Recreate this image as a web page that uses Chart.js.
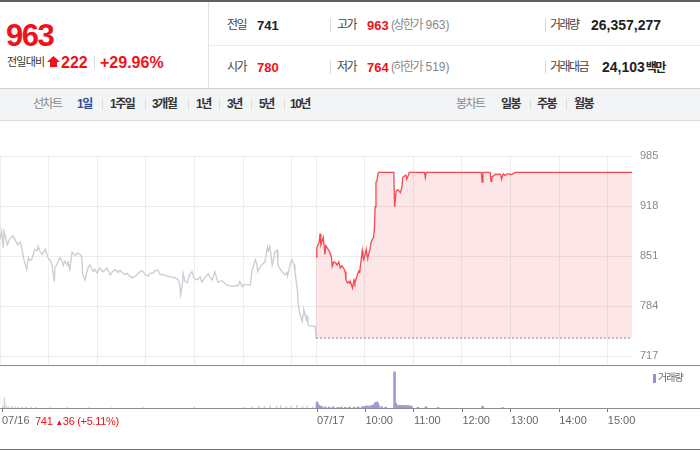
<!DOCTYPE html>
<html lang="ko">
<head>
<meta charset="utf-8">
<title>시세 차트</title>
<script src="https://cdn.jsdelivr.net/npm/chart.js@4.4.1/dist/chart.umd.min.js"></script>
<style>
  body { margin: 0; background: #fff; font-family: 'Liberation Sans', Arial, 'Noto Sans CJK KR', sans-serif; }
  #wrap { position: relative; width: 700px; height: 450px; overflow: hidden; background: #fff; }
  .t { position: absolute; white-space: nowrap; line-height: 1; }
  .ko { letter-spacing: -1.5px; }
  .lbl { font-size: 12px; color: #444; }
  .val { font-size: 13px; font-weight: bold; color: #222; }
  .big { font-size: 14px; font-weight: bold; color: #222; }
  .red { color: #f2111a; }
  .gray { font-size: 12px; color: #888; }
  .tab { font-size: 12px; font-weight: bold; color: #333; }
  .ln { position: absolute; }
  .sep { position: absolute; width: 1px; background: #dcdcdc; }
  #priceBox { position: absolute; left: 0; top: 120px; width: 700px; height: 245px; }
  #volBox { position: absolute; left: 0; top: 365px; width: 700px; height: 85px; }
</style>
</head>
<body>
<div id="wrap">
  <!-- 상단 시세 정보 -->
  <div class="ln" style="left:0;top:0;width:700px;height:2px;background:#5c6068"></div>
  <div class="t red" style="left:6px;top:20px;font-size:31px;font-weight:bold;letter-spacing:-1.5px">963</div>
  <div class="t ko" style="left:7px;top:57px;font-size:11px;color:#333;letter-spacing:-0.8px">전일대비</div>
  <svg style="position:absolute;left:47px;top:56px" width="13" height="11" viewBox="0 0 13 11">
    <polygon points="6.5,0 13,6 10,6 10,11 3,11 3,6 0,6" fill="#f2111a"/>
  </svg>
  <div class="t red" style="left:61px;top:55px;font-size:16px;font-weight:bold">222</div>
  <div class="sep" style="left:94px;top:56px;height:13px"></div>
  <div class="t red" style="left:100px;top:55px;font-size:16px;font-weight:bold">+29.96%</div>

  <div class="ln" style="left:208px;top:2px;width:1px;height:86px;background:#e2e2e2"></div>
  <div class="ln" style="left:209px;top:45px;width:491px;height:1px;background:#ececec"></div>

  <div class="t lbl ko" style="left:227px;top:19px">전일</div>
  <div class="t val" style="left:257px;top:19px">741</div>
  <div class="sep" style="left:330px;top:18px;height:14px"></div>
  <div class="t lbl ko" style="left:337px;top:19px">고가</div>
  <div class="t val red" style="left:367px;top:19px">963</div>
  <div class="t gray" style="left:391px;top:19px"><span class="ko">(상한가</span> 963)</div>
  <div class="sep" style="left:545px;top:18px;height:14px"></div>
  <div class="t lbl ko" style="left:550px;top:19px">거래량</div>
  <div class="t big" style="left:591px;top:18px">26,357,277</div>

  <div class="t lbl ko" style="left:227px;top:61px">시가</div>
  <div class="t val red" style="left:257px;top:61px">780</div>
  <div class="sep" style="left:330px;top:60px;height:14px"></div>
  <div class="t lbl ko" style="left:337px;top:61px">저가</div>
  <div class="t val red" style="left:367px;top:61px">764</div>
  <div class="t gray" style="left:391px;top:61px"><span class="ko">(하한가</span> 519)</div>
  <div class="sep" style="left:545px;top:60px;height:14px"></div>
  <div class="t lbl ko" style="left:550px;top:61px">거래대금</div>
  <div class="t big" style="left:602px;top:60px">24,103<span class="ko" style="font-size:12px;margin-left:1px">백만</span></div>

  <!-- 기간 탭 -->
  <div class="ln" style="left:0;top:88px;width:700px;height:31px;background:#f3f4f6;border-top:1px solid #cfcfcf;border-bottom:1px solid #dadada"></div>
  <div class="t gray ko" style="left:33px;top:98px">선차트</div>
  <div class="t tab ko" style="left:77px;top:98px;color:#2b4ea2">1일</div>
  <div class="sep" style="left:102px;top:99px;height:11px"></div>
  <div class="t tab ko" style="left:110px;top:98px">1주일</div>
  <div class="sep" style="left:145px;top:99px;height:11px"></div>
  <div class="t tab ko" style="left:152px;top:98px">3개월</div>
  <div class="sep" style="left:188px;top:99px;height:11px"></div>
  <div class="t tab ko" style="left:196px;top:98px">1년</div>
  <div class="sep" style="left:219px;top:99px;height:11px"></div>
  <div class="t tab ko" style="left:227px;top:98px">3년</div>
  <div class="sep" style="left:251px;top:99px;height:11px"></div>
  <div class="t tab ko" style="left:259px;top:98px">5년</div>
  <div class="sep" style="left:284px;top:99px;height:11px"></div>
  <div class="t tab ko" style="left:290px;top:98px">10년</div>
  <div class="t gray ko" style="left:456px;top:98px">봉차트</div>
  <div class="t tab ko" style="left:501px;top:98px">일봉</div>
  <div class="sep" style="left:530px;top:99px;height:11px"></div>
  <div class="t tab ko" style="left:537px;top:98px">주봉</div>
  <div class="sep" style="left:566px;top:99px;height:11px"></div>
  <div class="t tab ko" style="left:574px;top:98px">월봉</div>

  <!-- 차트 -->
  <div id="priceBox"><canvas id="priceChart"></canvas></div>
  <div id="volBox"><canvas id="volChart"></canvas></div>
  <div class="ln" style="left:0;top:365px;width:700px;height:1px;background:#8c8c8c"></div>
  <div class="ln" style="left:0;top:408px;width:700px;height:1px;background:#8c8c8c"></div>
  <div class="ln" style="left:0;top:449px;width:700px;height:1px;background:#777"></div>

  <div class="ln" style="left:653px;top:374px;width:3px;height:9px;background:#9b8fd0"></div>
  <div class="t ko" style="left:658px;top:373px;font-size:10px;color:#666;letter-spacing:-1px">거래량</div>
  <div class="t red" style="left:35px;top:416px;font-size:11px;letter-spacing:-0.3px">741 <span style="font-size:8px">▲</span>36 (+5.11%)</div>
</div>

<script>
// x축: 09:00 기준 경과 분 (07/16 = 0~390, 07/17 = 390~780)
var prevClose = 741;
var priceTicks = [717, 784, 851, 918, 985];
var gridTicks = [0, 60, 120, 180, 240, 300, 360, 390, 450, 510, 570, 630, 690, 750];
var labelTicks = [0, 390, 450, 510, 570, 630, 690, 750];
var tickLabels = ['07/16', '07/17', '10:00', '11:00', '12:00', '13:00', '14:00', '15:00'];

// 07/16 체결가
var d1Min = [0, 2, 4, 5, 7, 9, 12, 16, 19, 22, 25, 27, 30, 31, 33, 35, 37, 39, 43, 46,
  47, 49, 52, 56, 59, 62, 64, 67, 68, 70, 74, 77, 78, 80, 83, 84, 86, 89, 93, 96,
  99, 101, 102, 105, 107, 109, 111, 115, 117, 120, 123, 127, 130, 132, 136, 139, 142, 146, 148, 154,
  157, 160, 163, 167, 169, 173, 176, 179, 183, 185, 189, 191, 195, 197, 204, 210, 216, 220, 222, 223,
  225, 226, 228, 231, 234, 237, 239, 243, 247, 249, 253, 257, 259, 262, 265, 269, 274, 280, 284, 288,
  291, 294, 296, 299, 302, 309, 311, 313, 315, 317, 318, 321, 323, 327, 330, 331, 333, 336, 338, 339,
  342, 343, 346, 348, 352, 354, 355, 358, 360, 363, 364, 367, 368, 370, 373, 374, 375, 378, 379, 380,
  383, 389, 390];
var d1Price = [873, 884, 862, 884, 876, 866, 874, 878, 872, 866, 870, 860, 844, 840, 833, 849, 845, 846, 860, 858,
  864, 858, 853, 860, 849, 845, 840, 817, 836, 839, 849, 843, 838, 844, 839, 843, 833, 856, 852, 855,
  853, 849, 826, 819, 829, 836, 839, 830, 833, 828, 835, 830, 833, 835, 826, 830, 833, 829, 832, 826,
  828, 824, 822, 824, 826, 830, 831, 826, 824, 828, 828, 831, 832, 827, 825, 823, 822, 819, 812, 799,
  812, 828, 818, 815, 826, 830, 822, 819, 823, 816, 822, 827, 823, 819, 830, 816, 818, 812, 811, 810,
  812, 811, 817, 810, 813, 812, 832, 838, 846, 840, 830, 836, 839, 843, 863, 858, 864, 839, 848, 856,
  859, 839, 833, 830, 826, 829, 824, 840, 846, 839, 830, 806, 786, 774, 763, 772, 779, 766, 770, 759,
  757, 757, 741];

// 07/17 체결가
var d2Min = [390, 391, 394, 395, 396, 399, 401, 402, 405, 407, 409, 410, 412, 414, 416, 418, 420, 422, 425, 426,
  427, 429, 431, 432, 433, 435, 437, 438, 441, 443, 444, 447, 448, 449, 452, 453, 454, 457, 458, 461,
  462, 463, 464, 465, 467, 486, 487, 489, 491, 494, 496, 497, 500, 501, 502, 504, 505, 524, 525, 526,
  594, 595, 596, 605, 606, 607, 610, 612, 614, 616, 618, 619, 621, 623, 626, 628, 631, 633, 636, 780];
var d2Price = [850, 862, 870, 881, 866, 876, 853, 865, 860, 856, 850, 837, 843, 842, 839, 843, 835, 838, 833, 830,
  819, 815, 817, 814, 815, 808, 819, 815, 826, 831, 830, 858, 849, 846, 860, 851, 849, 862, 870, 876,
  887, 917, 950, 951, 963, 963, 917, 938, 940, 936, 943, 956, 959, 960, 954, 959, 963, 963, 956, 963,
  963, 950, 963, 963, 951, 957, 959, 961, 960, 961, 960, 954, 961, 959, 961, 961, 960, 961, 963, 963];

// 거래량 (주)
var d1VolMin = [1, 3, 5, 8, 12, 16, 20, 25, 30, 36, 42, 60, 81, 107, 136, 175, 238, 300, 310, 318,
  325, 332, 340, 345, 352, 358, 365, 372, 378, 385, 389];
var d1Vol = [40000, 230000, 50000, 30000, 40000, 25000, 30000, 20000, 25000, 20000, 15000, 12000, 20000, 15000, 12000, 10000, 20000, 15000, 30000, 45000,
  35000, 50000, 40000, 55000, 35000, 45000, 60000, 40000, 50000, 30000, 45000];
var d2VolMin = [390, 391, 392, 394, 396, 400, 405, 410, 416, 420, 425, 430, 436, 441, 446, 449, 452, 455, 458, 460,
  462, 463, 464, 465, 466, 470, 475, 486, 487, 488, 489, 491, 493, 495, 497, 499, 501, 503, 505, 507,
  515, 525, 540, 595, 620];
var d2Vol = [140000, 90000, 60000, 45000, 30000, 25000, 20000, 25000, 15000, 20000, 15000, 20000, 18000, 25000, 30000, 40000, 50000, 45000, 60000, 70000,
  110000, 130000, 140000, 120000, 60000, 30000, 20000, 840000, 120000, 80000, 60000, 55000, 65000, 50000, 60000, 55000, 50000, 60000, 45000, 40000,
  15000, 30000, 10000, 40000, 8000];

function toPoints(xs, ys) {
  return xs.map(function (x, i) { return { x: x, y: ys[i] }; });
}

function fixedTicks(list) {
  return function (scale) {
    scale.ticks = list.map(function (v) { return { value: v }; });
  };
}

window.onload = function () {
  Chart.defaults.font.family = "'Liberation Sans', Arial, 'Noto Sans CJK KR', sans-serif";
  Chart.defaults.animation = false;

  // 가격 차트
  var priceChart = new Chart(document.getElementById('priceChart'), {
    type: 'line',
    data: {
      datasets: [
        {
          // 전일 종가 기준선
          data: [{ x: 390, y: prevClose }, { x: 780, y: prevClose }],
          borderColor: '#8a8a8a',
          borderWidth: 1,
          borderDash: [2, 2],
          pointRadius: 0,
          fill: false
        },
        {
          data: toPoints(d2Min, d2Price),
          borderColor: 'rgba(242, 44, 50, 0.85)',
          borderWidth: 1.3,
          pointRadius: 0,
          fill: { value: prevClose },
          backgroundColor: 'rgba(240, 60, 70, 0.13)'
        },
        {
          data: toPoints(d1Min, d1Price),
          borderColor: '#c9ccd3',
          borderWidth: 1.3,
          pointRadius: 0,
          fill: false
        }
      ]
    },
    options: {
      responsive: true,
      maintainAspectRatio: false,
      layout: { padding: { top: 36 } },
      plugins: { legend: { display: false }, tooltip: { enabled: false } },
      scales: {
        x: {
          type: 'linear',
          min: 0,
          max: 780,
          afterBuildTicks: fixedTicks(gridTicks),
          afterFit: function (s) { s.height = 0; s.paddingLeft = 0; s.paddingRight = 0; },
          ticks: { display: false },
          grid: { color: '#ededed', drawTicks: false },
          border: { display: false }
        },
        y: {
          position: 'right',
          min: 705,
          max: 985,
          afterBuildTicks: fixedTicks(priceTicks),
          // 눈금 글자 때문에 생기는 위/아래 여백 제거
          afterFit: function (s) { s.width = 68; s.paddingTop = 0; s.paddingBottom = 0; },
          ticks: { color: '#888', padding: 8, font: { size: 11 } },
          grid: { color: '#ededed', drawTicks: false },
          border: { display: false }
        }
      }
    }
  });

  // 거래량 차트
  var volChart = new Chart(document.getElementById('volChart'), {
    type: 'bar',
    data: {
      datasets: [
        { data: toPoints(d2VolMin, d2Vol), backgroundColor: '#a597d8', barThickness: 2, grouped: false },
        { data: toPoints(d1VolMin, d1Vol), backgroundColor: '#d2d0da', barThickness: 1, grouped: false }
      ]
    },
    options: {
      responsive: true,
      maintainAspectRatio: false,
      layout: { padding: { right: 68 } },
      plugins: { legend: { display: false }, tooltip: { enabled: false } },
      scales: {
        x: {
          type: 'linear',
          min: 0,
          max: 780,
          offset: false,
          afterBuildTicks: fixedTicks(labelTicks),
          afterFit: function (s) { s.height = 42; },
          ticks: {
            align: 'start',
            autoSkip: false,
            maxRotation: 0,
            padding: 2,
            color: '#666',
            font: { size: 11 },
            callback: function (v) {
              var i = labelTicks.indexOf(v);
              return i >= 0 ? tickLabels[i] : '';
            }
          },
          grid: { offset: false, drawOnChartArea: false, drawTicks: true, tickLength: 4, color: '#777' },
          border: { display: false }
        },
        y: { display: false, min: 0, max: 1000000 }
      }
    }
  });
};
</script>
</body>
</html>
